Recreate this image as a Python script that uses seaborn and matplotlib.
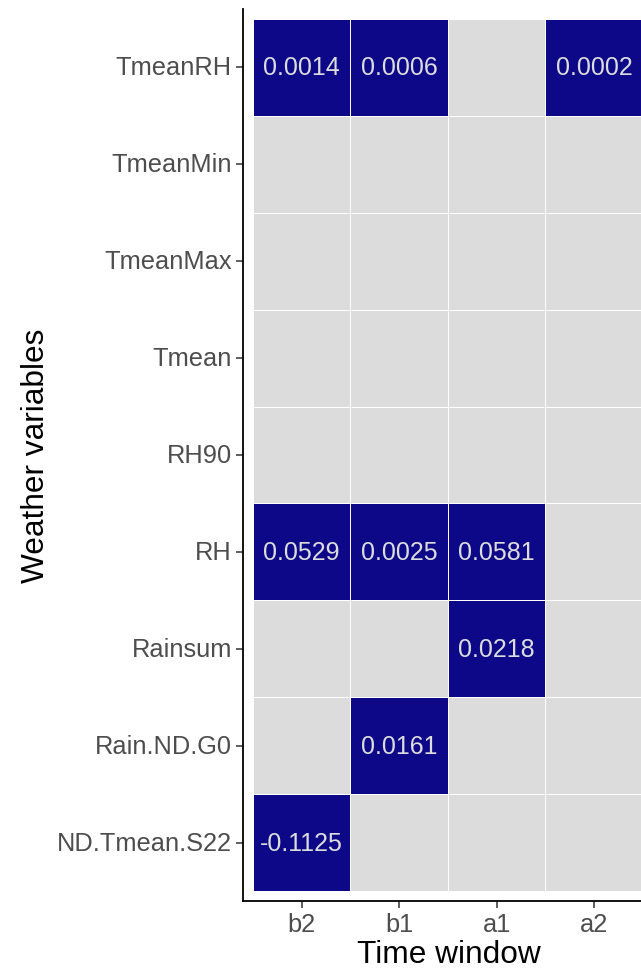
import numpy as np
import pandas as pd
import matplotlib
matplotlib.use("Agg")
import matplotlib.pyplot as plt
from matplotlib.colors import ListedColormap
import seaborn as sns

# Weather variables (top to bottom) and time windows
variables = ["TmeanRH", "TmeanMin", "TmeanMax", "Tmean", "RH90",
             "RH", "Rainsum", "Rain.ND.G0", "ND.Tmean.S22"]
windows = ["b2", "b1", "a1", "a2"]

# Significant coefficients: (variable, window, value)
sig_vars = ["TmeanRH", "TmeanRH", "TmeanRH", "RH", "RH", "RH",
            "Rainsum", "Rain.ND.G0", "ND.Tmean.S22"]
sig_windows = ["b2", "b1", "a2", "b2", "b1", "a1", "a1", "b1", "b2"]
sig_values = [0.0014, 0.0006, 0.0002, 0.0529, 0.0025, 0.0581,
              0.0218, 0.0161, -0.1125]

sns.set_style("white")
plt.rcParams["font.family"] = ["Liberation Sans", "DejaVu Sans"]

values = pd.DataFrame(np.nan, index=variables, columns=windows)
for v, w, val in zip(sig_vars, sig_windows, sig_values):
    values.loc[v, w] = val

present = values.notna().astype(int)
labels = values.map(lambda x: "" if pd.isna(x) else f"{x:.4f}")

fig = plt.figure(figsize=(6.41, 9.70), dpi=100)
ax = fig.add_axes([243 / 641, (970 - 902) / 970, 1 - 243 / 641, (902 - 10) / 970])

sns.heatmap(present, ax=ax, cmap=ListedColormap(["#DCDCDC", "#0D0887"]),
            vmin=0, vmax=1, cbar=False, linewidths=0.6, linecolor="white",
            annot=labels.values, fmt="",
            annot_kws={"color": "#DDDDDD", "fontsize": 18})

ax.set_xlim(-0.1, 3.98)
ax.set_ylim(9.1, -0.1)

for side in ["left", "bottom"]:
    ax.spines[side].set_visible(True)
    ax.spines[side].set_color("black")
    ax.spines[side].set_linewidth(1.3)
for side in ["top", "right"]:
    ax.spines[side].set_visible(False)

ax.tick_params(axis="both", which="both", length=5, width=1.1, color="#333333",
               labelsize=18.3, labelcolor="#4D4D4D", pad=3,
               left=True, bottom=True)
ax.set_yticklabels(variables, rotation=0)
ax.set_xticklabels(windows, rotation=0)
ax.set_xlabel("Time window", fontsize=22.8, color="black")
ax.set_ylabel("Weather variables", fontsize=22.8, color="black", labelpad=4)
ax.xaxis.set_label_coords(0.518, -0.0425)

fig.savefig("out.png", dpi=100)
